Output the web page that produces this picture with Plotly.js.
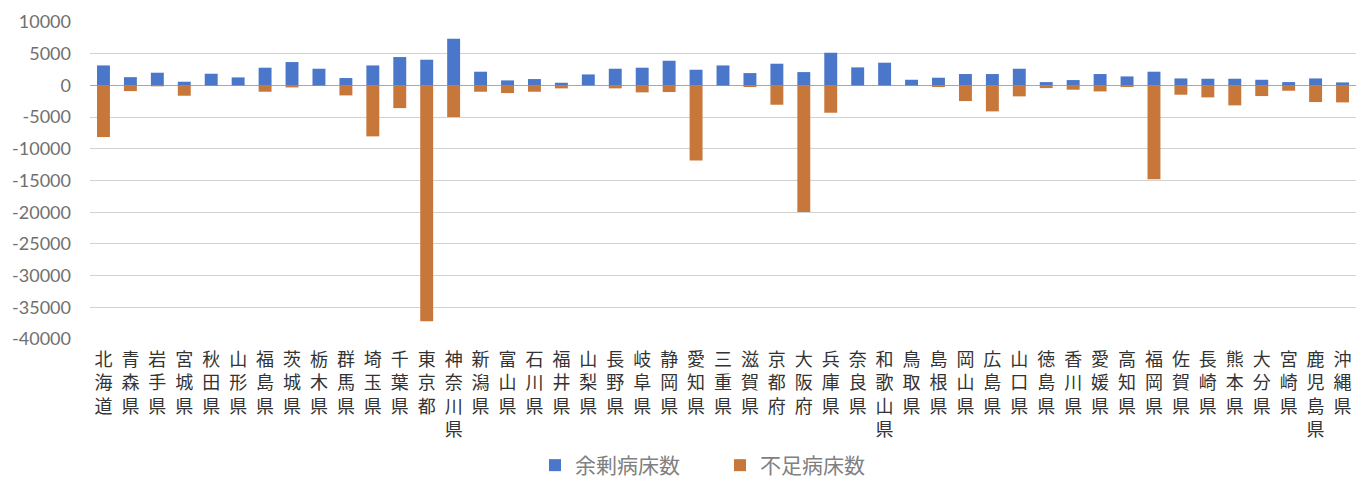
<!DOCTYPE html>
<html>
<head>
<meta charset="utf-8">
<script src="https://cdn.plot.ly/plotly-3.0.1.min.js"></script>
<style>html,body{margin:0;padding:0;background:#fff}#chart{width:1359px;height:486px}</style>
</head>
<body>
<div id="chart"></div>
<script>
const prefectures = ["北海道","青森県","岩手県","宮城県","秋田県","山形県","福島県","茨城県","栃木県","群馬県",
  "埼玉県","千葉県","東京都","神奈川県","新潟県","富山県","石川県","福井県","山梨県","長野県",
  "岐阜県","静岡県","愛知県","三重県","滋賀県","京都府","大阪府","兵庫県","奈良県","和歌山県",
  "鳥取県","島根県","岡山県","広島県","山口県","徳島県","香川県","愛媛県","高知県","福岡県",
  "佐賀県","長崎県","熊本県","大分県","宮崎県","鹿児島県","沖縄県"];

const surplusBeds = [3150,1300,2000,580,1840,1260,2790,3680,2630,1160,
  3150,4470,4050,7360,2160,790,1000,420,1730,2630,
  2790,3890,2470,3150,1940,3420,2100,5150,2840,3580,
  890,1210,1790,1790,2630,520,840,1790,1420,2160,
  1100,1050,1050,890,520,1100,470];

const shortageBeds = [-8150,-900,-150,-1630,-100,0,-1000,-320,-100,-1580,
  -8040,-3580,-37200,-5000,-1000,-1210,-1000,-470,0,-470,
  -1100,-1050,-11830,-100,-260,-3050,-19980,-4310,0,0,
  0,-260,-2470,-4100,-1730,-420,-680,-950,-260,-14820,
  -1470,-1890,-3150,-1680,-840,-2630,-2680];

const seriesNames = ["余剰病床数","不足病床数"];
const yTicks = [10000,5000,0,-5000,-10000,-15000,-20000,-25000,-30000,-35000,-40000];

const verticalLabels = prefectures.map(p => Array.from(p).join("<br>"));

const traces = [
  {type:"bar", name:seriesNames[0], x:prefectures, y:surplusBeds,
   marker:{color:"#4a77c9"}},
  {type:"bar", name:seriesNames[1], x:prefectures, y:shortageBeds,
   marker:{color:"#c8773a"}}
];

const layout = {
  width:1359, height:486,
  margin:{l:90, r:3, t:22, b:147, pad:0},
  paper_bgcolor:"#ffffff", plot_bgcolor:"#ffffff",
  barmode:"relative", bargap:0.52,
  font:{family:"'Noto Sans CJK JP', 'Noto Sans', sans-serif", color:"#444"},
  xaxis:{
    type:"category", tickmode:"array", tickvals:prefectures, ticktext:verticalLabels,
    tickangle:0, showgrid:false, zeroline:false, showline:false, ticks:"",
    ticklabelstandoff:8,
    tickfont:{size:18, color:"#333", family:"'Noto Sans CJK JP', sans-serif"},
    automargin:false
  },
  yaxis:{
    range:[-40000,10000], tickmode:"array", tickvals:yTicks,
    ticktext:yTicks.map(v => v < 0 ? "-" + Math.abs(v) : String(v)),
    showgrid:true, gridcolor:"#d2d2d2", gridwidth:1,
    zeroline:true, zerolinecolor:"#a8a8a8", zerolinewidth:1,
    showline:false, ticks:"", ticklabelstandoff:18,
    tickfont:{size:18, color:"#707070", family:"Lato, 'Open Sans', sans-serif"},
    automargin:false
  },
  showlegend:true,
  legend:{
    orientation:"h", xref:"container", yref:"container",
    x:535/1359, xanchor:"left", y:0, yanchor:"bottom",
    font:{size:21, color:"#808080", family:"'Noto Sans CJK JP', sans-serif"},
    itemwidth:30, entrywidth:140, entrywidthmode:"pixels",
    traceorder:"normal", bgcolor:"rgba(0,0,0,0)"
  }
};

Plotly.newPlot("chart", traces, layout, {displayModeBar:false, staticPlot:true});
</script>
</body>
</html>
